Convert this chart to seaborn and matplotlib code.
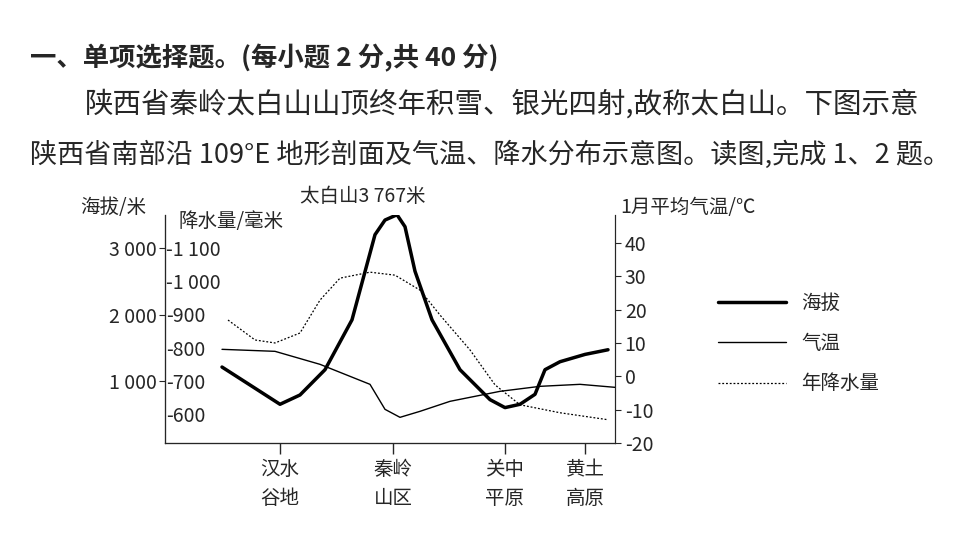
import matplotlib
matplotlib.use("Agg")
import matplotlib.pyplot as plt
import seaborn as sns
from matplotlib.lines import Line2D

sns.set_style("ticks")
plt.rcParams["font.family"] = ["Noto Sans CJK SC", "DejaVu Sans"]

# distance along the profile (arbitrary units, 0..450)
elev_x = [57, 85, 115, 135, 160, 187, 210, 220, 232, 240, 250, 267, 295, 325, 340, 355, 370, 380, 395, 420, 443]
elev_m = [1210, 940, 650, 790, 1170, 1920, 3200, 3420, 3500, 3320, 2650, 1920, 1170, 720, 600, 650, 800, 1170, 1290, 1400, 1470]

temp_x = [57, 110, 155, 205, 220, 235, 255, 285, 335, 375, 415, 450]
temp_c = [8.1, 7.5, 3.6, -2.4, -9.9, -12.3, -10.5, -7.5, -4.5, -3.0, -2.4, -3.3]

prec_x = [63, 90, 110, 135, 155, 175, 205, 230, 255, 275, 305, 330, 355, 395, 443]
prec_mm = [883, 823, 814, 844, 943, 1009, 1027, 1018, 973, 898, 793, 688, 628, 604, 583]

region_x = [115, 228, 340, 420]
region_labels = ["汉水\n谷地", "秦岭\n山区", "关中\n平原", "黄土\n高原"]
elev_ticks = [1000, 2000, 3000]
prec_ticks = [600, 700, 800, 900, 1000, 1100]
temp_ticks = [-20, -10, 0, 10, 20, 30, 40]

fig = plt.figure(figsize=(9.6, 5.4), dpi=100)
fs = 14

fig.text(30 / 960, 1 - 58 / 540, "一、单项选择题。(每小题 2 分,共 40 分)", fontsize=19,
         fontweight="bold", va="center")
fig.text(85 / 960, 1 - 105 / 540, "陕西省秦岭太白山山顶终年积雪、银光四射,故称太白山。下图示意",
         fontsize=20.5, va="center")
fig.text(30 / 960, 1 - 155 / 540, "陕西省南部沿 109°E 地形剖面及气温、降水分布示意图。读图,完成 1、2 题。",
         fontsize=19.5, va="center")

ax = fig.add_axes([165 / 960, 97 / 540, 450 / 960, 228 / 540])
ax.set_xlim(0, 450)
ax.set_ylim(513, 1199)
sns.lineplot(x=prec_x, y=prec_mm, ax=ax, color="black", lw=0.9, linestyle=(0, (1.5, 1.5)))
ax.set_yticks(prec_ticks)
ax.set_yticklabels(["-" + f"{v:,}".replace(",", " ") for v in prec_ticks], fontsize=fs)
ax.tick_params(axis="y", length=0, pad=-1)
for t in ax.get_yticklabels():
    t.set_horizontalalignment("left")
ax.set_xticks(region_x)
ax.set_xticklabels(region_labels, fontsize=fs, linespacing=1.5)
ax.tick_params(axis="x", length=8, width=1, direction="out")
ax.spines["top"].set_visible(False)

axe = ax.twinx()
axe.set_ylim(68, 3496)
sns.lineplot(x=elev_x, y=elev_m, ax=axe, color="black", lw=2.5)
axe.yaxis.tick_left()
axe.set_yticks(elev_ticks)
axe.set_yticklabels([f"{v:,}".replace(",", " ") for v in elev_ticks], fontsize=fs)
axe.tick_params(axis="y", length=4, pad=2)
for s in ["top", "right"]:
    axe.spines[s].set_visible(False)

axt = ax.twinx()
axt.set_ylim(-20, 48.4)
sns.lineplot(x=temp_x, y=temp_c, ax=axt, color="black", lw=1.0)
axt.set_yticks(temp_ticks)
axt.set_yticklabels([str(v) for v in temp_ticks], fontsize=fs)
axt.tick_params(axis="y", length=4, pad=3)
axt.spines["top"].set_visible(False)
for a in (ax, axe, axt):
    a.set_xlim(0, 450)
    a.set_xlabel("")
    a.set_ylabel("")

fig.text(80 / 960, 1 - 207 / 540, "海拔/米", fontsize=fs, va="center")
fig.text(178 / 960, 1 - 222 / 540, "降水量/毫米", fontsize=fs, va="center")
fig.text(620 / 960, 1 - 207 / 540, "1月平均气温/℃", fontsize=fs, va="center")
fig.text(300 / 960, 1 - 197 / 540, "太白山3 767米", fontsize=fs, va="center")

handles = [Line2D([], [], color="black", lw=2.5),
           Line2D([], [], color="black", lw=1.0),
           Line2D([], [], color="black", lw=0.9, linestyle=(0, (1.5, 1.5)))]
fig.legend(handles, ["海拔", "气温", "年降水量"], loc="upper left",
           bbox_to_anchor=(700 / 960, 1 - 275 / 540), frameon=False, fontsize=fs,
           handlelength=3.5, labelspacing=1.0)

fig.savefig("out.png", dpi=100)
